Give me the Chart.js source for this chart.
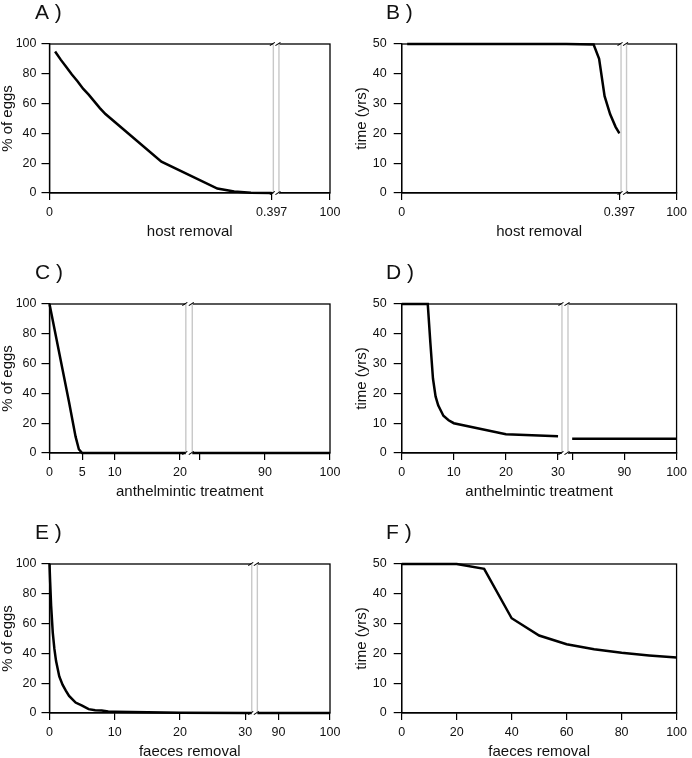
<!DOCTYPE html>
<html>
<head>
<meta charset="utf-8">
<script src="https://cdn.jsdelivr.net/npm/chart.js@4.4.1/dist/chart.umd.min.js"></script>
<style>
  body { margin: 0; background: #fff; width: 692px; height: 758px; overflow: hidden; position: relative; }
  canvas { position: absolute; }
</style>
</head>
<body>
<canvas id="chartA" width="346" height="260" style="left:0px;top:0px"></canvas>
<canvas id="chartB" width="346" height="260" style="left:346px;top:0px"></canvas>
<canvas id="chartC" width="346" height="260" style="left:0px;top:260px"></canvas>
<canvas id="chartD" width="346" height="260" style="left:346px;top:260px"></canvas>
<canvas id="chartE" width="346" height="260" style="left:0px;top:520px"></canvas>
<canvas id="chartF" width="346" height="260" style="left:346px;top:520px"></canvas>
<script>
// --- data ---
const hostX = [0.01, 0.02, 0.03, 0.04, 0.05, 0.06, 0.07, 0.08, 0.09, 0.1, 0.2, 0.3, 0.33, 0.36, 0.397];
const hostEggs = [95, 89.5, 84.5, 79.5, 75, 70, 66, 61.5, 57, 53, 21, 3, 1, 0.1, 0];

const hostTimeX = [0.01, 0.1, 0.2, 0.3, 0.35, 0.36, 0.37, 0.38, 0.39, 0.397];
const hostTime = [50, 50, 50, 50, 49.8, 45, 32.5, 26.5, 22.2, 20];

const anthX = [0, 1, 2, 3, 4, 4.5, 5, 6, 8, 10, 15, 20, 80, 90, 100];
const anthEggs = [100, 78, 56, 34, 11, 2.5, 0, 0, 0, 0, 0, 0, 0, 0, 0];

const anthTimeX = [0, 5, 5.5, 6, 6.5, 7, 8, 9, 10, 20, 30, 50, 80, 90, 100];
const anthTime = [50, 50, 37, 25, 19, 16, 12.5, 11, 10, 6.3, 5.6, null, 4.8, 4.8, 4.8];

const faecesX = [0, 0.1, 0.25, 0.5, 0.75, 1, 1.5, 2, 2.5, 3, 4, 5, 6, 7, 8, 9, 10, 15, 20, 30, 90, 100];
const faecesEggs = [100, 88, 72, 54, 43, 35, 24.5, 19, 15, 11.5, 7, 5, 2.6, 1.9, 1.7, 1, 0.9, 0.5, 0.2, 0, 0, 0];

const faecesTimeX = [0, 10, 20, 30, 40, 50, 60, 70, 80, 90, 100];
const faecesTime = [50, 50, 50, 48.4, 31.8, 26, 23.1, 21.4, 20.2, 19.3, 18.6];

// tick values and labels
const hostTicks = [0, 0.397, 100];
const hostTickLabels = ['0', '0.397', '100'];
const anthEggTicks = [0, 5, 10, 20, 80, 90, 100];
const anthEggTickLabels = ['0', '5', '10', '20', '', '90', '100'];
const anthTimeTicks = [0, 10, 20, 30, 80, 90, 100];
const anthTimeTickLabels = ['0', '10', '20', '30', '', '90', '100'];
const faecesEggTicks = [0, 10, 20, 30, 90, 100];
const faecesEggTickLabels = ['0', '10', '20', '30', '90', '100'];
const faecesTimeTicks = [0, 20, 40, 60, 80, 100];
const faecesTimeTickLabels = ['0', '20', '40', '60', '80', '100'];

// broken axis pieces: [from, to, axis fraction start, axis fraction end]
const hostSegs = [[0, 0.4, 0, 0.798], [90, 100, 0.818, 1]];
const anthEggSegs = [[0, 20.9, 0, 0.486], [78.8, 100, 0.509, 1]];
const anthTimeSegs = [[0, 30.75, 0, 0.583], [79.2, 100, 0.605, 1]];
const faecesEggSegs = [[0, 31, 0, 0.721], [85.9, 100, 0.741, 1]];
const plainSegs = [[0, 100, 0, 1]];

Chart.defaults.font.family = "'Liberation Sans', Arial, sans-serif";
Chart.defaults.color = '#111';

function segMap(segs) {
  return function (x) {
    for (const s of segs) {
      if (x >= s[0] && x <= s[1]) return 1000 * (s[2] + (x - s[0]) / (s[1] - s[0]) * (s[3] - s[2]));
    }
    // value inside the gap
    const a = segs[0], b = segs[1];
    return 1000 * (a[3] + (x - a[1]) / (b[0] - a[1]) * (b[2] - a[3]));
  };
}

const frameAndBreak = {
  id: 'frameAndBreak',
  afterDraw(chart, args, opts) {
    const ctx = chart.ctx;
    const a = chart.chartArea;
    ctx.save();
    ctx.strokeStyle = '#000';
    ctx.lineWidth = 1.3;
    ctx.strokeRect(a.left, a.top, a.right - a.left, a.bottom - a.top);
    if (opts.segs.length > 1) {
      const xs = chart.scales.x;
      const gL = xs.getPixelForValue(opts.segs[0][3] * 1000);
      const gR = xs.getPixelForValue(opts.segs[1][2] * 1000);
      ctx.fillStyle = '#fff';
      ctx.fillRect(gL, a.top - 3, gR - gL, a.bottom - a.top + 6);
      ctx.strokeStyle = '#c8c8c8';
      ctx.lineWidth = 1.4;
      [gL, gR].forEach(g => {
        ctx.beginPath();
        ctx.moveTo(g, a.top);
        ctx.lineTo(g, a.bottom);
        ctx.stroke();
      });
      ctx.strokeStyle = '#000';
      ctx.lineWidth = 1.1;
      [gL, gR].forEach(g => {
        [a.top, a.bottom].forEach(y => {
          ctx.beginPath();
          ctx.moveTo(g - 3.5, y + 1.6);
          ctx.lineTo(g + 1.5, y - 1.6);
          ctx.stroke();
        });
      });
    }
    // panel letter
    ctx.fillStyle = '#111';
    ctx.font = "21px 'Liberation Sans', Arial, sans-serif";
    ctx.textBaseline = 'middle';
    ctx.textAlign = 'left';
    ctx.fillText(opts.letter, opts.letterX, 13);
    ctx.restore();
  }
};

function drawPanel(id, letter, col, xs, ys, segs, ticks, tickLabels, yMax, yStep, yTitle, xTitle) {
  const map = segMap(segs);
  const points = xs.map((x, i) => ({ x: map(x), y: ys[i] }));
  const ctx = document.getElementById(id).getContext('2d');
  const yAxisW = [49.5, 55.7][col];
  return new Chart(ctx, {
    type: 'line',
    data: {
      datasets: [{
        data: points,
        borderColor: '#000',
        borderWidth: 2.5,
        pointRadius: 0,
        tension: 0,
        spanGaps: false,
        clip: false
      }]
    },
    options: {
      responsive: false,
      animation: false,
      devicePixelRatio: 1,
      layout: { padding: { top: 44, bottom: 7, left: 0, right: [16, 10][col] } },
      plugins: {
        legend: { display: false },
        tooltip: { enabled: false },
        frameAndBreak: { segs: segs, letter: letter, letterX: [35, 40][col] }
      },
      scales: {
        x: {
          type: 'linear',
          min: 0,
          max: 1000,
          afterBuildTicks: s => { s.ticks = ticks.map(v => ({ value: map(v) })); },
          afterFit: s => { s.height = 60; },
          ticks: {
            callback: (v, i) => tickLabels[i],
            autoSkip: false,
            maxRotation: 0,
            minRotation: 0,
            padding: 5,
            font: { size: 12.5 },
            color: '#111'
          },
          grid: { drawOnChartArea: false, drawTicks: true, tickLength: 7, color: '#000', lineWidth: 1.2 },
          border: { display: true, color: '#000', width: 1.3 },
          title: { display: true, text: xTitle, font: { size: 15 }, color: '#111', padding: { top: 0, bottom: 12 } }
        },
        y: {
          type: 'linear',
          min: 0,
          max: yMax,
          afterFit: s => { s.width = yAxisW; },
          ticks: { stepSize: yStep, padding: [5, 7][col], font: { size: 12.5 }, color: '#111' },
          grid: { drawOnChartArea: false, drawTicks: true, tickLength: 8, color: '#000', lineWidth: 1.2 },
          border: { display: true, color: '#000', width: 1.3 },
          title: { display: true, text: yTitle, font: { size: 15, lineHeight: 1 }, color: '#111', padding: { top: [0, 8][col], bottom: 0 } }
        }
      }
    },
    plugins: [frameAndBreak]
  });
}

drawPanel('chartA', 'A )', 0, hostX, hostEggs, hostSegs, hostTicks, hostTickLabels, 100, 20, '% of eggs', 'host removal');
drawPanel('chartB', 'B )', 1, hostTimeX, hostTime, hostSegs, hostTicks, hostTickLabels, 50, 10, 'time (yrs)', 'host removal');
drawPanel('chartC', 'C )', 0, anthX, anthEggs, anthEggSegs, anthEggTicks, anthEggTickLabels, 100, 20, '% of eggs', 'anthelmintic treatment');
drawPanel('chartD', 'D )', 1, anthTimeX, anthTime, anthTimeSegs, anthTimeTicks, anthTimeTickLabels, 50, 10, 'time (yrs)', 'anthelmintic treatment');
drawPanel('chartE', 'E )', 0, faecesX, faecesEggs, faecesEggSegs, faecesEggTicks, faecesEggTickLabels, 100, 20, '% of eggs', 'faeces removal');
drawPanel('chartF', 'F )', 1, faecesTimeX, faecesTime, plainSegs, faecesTimeTicks, faecesTimeTickLabels, 50, 10, 'time (yrs)', 'faeces removal');
</script>
</body>
</html>
